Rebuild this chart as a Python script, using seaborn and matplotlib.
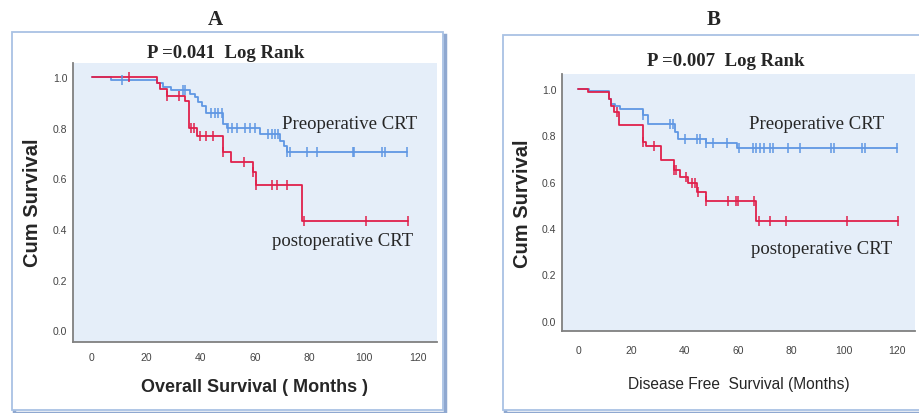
import numpy as np
import seaborn as sns
import matplotlib.pyplot as plt
from matplotlib.patches import Rectangle

# Panel A - overall survival (months), step times / survival after step
os_pre_t = [0, 7.1, 23.9, 26.3, 29.0, 34.9, 36.1, 37.9, 39.1, 40.7, 42.2, 48.4, 49.6, 61.9, 69.2, 70.7, 71.9]
os_pre_s = [1.0, 0.989, 0.977, 0.964, 0.951, 0.951, 0.934, 0.921, 0.903, 0.885, 0.861, 0.815, 0.80, 0.776, 0.749, 0.727, 0.703]
os_pre_cens = [11.1, 33.5, 34.3, 44.0, 45.3, 46.5, 47.8, 50.2, 51.5, 53.3, 56.3, 58.2, 60.0,
               65.0, 66.2, 67.4, 68.6, 71.9, 72.9, 79.0, 83.0, 96.0, 96.6, 106.6, 107.8, 115.8]

os_post_t = [0, 23.9, 25.1, 27.8, 34.3, 35.9, 38.8, 48.2, 51.2, 59.2, 60.3, 77.2]
os_post_s = [1.0, 0.977, 0.954, 0.927, 0.905, 0.80, 0.77, 0.703, 0.666, 0.624, 0.574, 0.433]
os_post_cens = [13.8, 27.8, 32.0, 36.5, 37.5, 39.8, 42.2, 44.7, 48.2, 56.0, 59.2, 60.3,
                66.2, 68.0, 71.9, 78.0, 101.0, 116.4]

# Panel B - disease free survival (months)
dfs_pre_t = [0, 4.0, 11.5, 12.5, 13.8, 15.7, 24.2, 26.3, 36.3, 37.6, 48.0, 59.8]
dfs_pre_s = [1.0, 0.993, 0.957, 0.935, 0.925, 0.914, 0.888, 0.849, 0.813, 0.784, 0.767, 0.745]
dfs_pre_cens = [24.2, 34.5, 35.5, 40.1, 44.5, 45.7, 48.2, 50.8, 55.8, 60.5, 65.8, 67.0, 68.5,
                69.8, 72.1, 73.3, 78.9, 83.3, 95.2, 96.1, 106.5, 107.8, 119.9]

dfs_post_t = [0, 3.8, 11.5, 12.5, 13.4, 15.4, 24.2, 25.4, 31.1, 36.1, 38.2, 41.4, 44.5, 48.0, 67.0]
dfs_post_s = [1.0, 0.988, 0.957, 0.928, 0.90, 0.846, 0.773, 0.755, 0.695, 0.652, 0.619, 0.593, 0.554, 0.518, 0.432]
dfs_post_cens = [14.4, 24.2, 28.4, 36.1, 36.9, 40.7, 42.6, 43.9, 45.1, 48.2, 56.4, 59.3, 60.2,
                 66.0, 68.0, 72.1, 78.1, 100.9, 120.3]

y_ticks = [0.0, 0.2, 0.4, 0.6, 0.8, 1.0]
x_ticks = [0, 20, 40, 60, 80, 100, 120]

BLUE = '#5f97e3'
RED = '#e0204c'
BG = '#e5eef9'

sns.set_style('white')
plt.rcParams['font.family'] = ['Liberation Sans', 'DejaVu Sans']

W, H = 920, 414
fig = plt.figure(figsize=(W / 100, H / 100), dpi=100)


def px(x0, y0, x1, y1):
    # pixel box -> figure fraction [left, bottom, width, height]
    return [x0 / W, 1 - y1 / H, (x1 - x0) / W, (y1 - y0) / H]


def frame(x0, y0, x1, y1):
    l, b, w, h = px(x0, y0, x1, y1)
    fig.patches.append(Rectangle((l + 2.5 / W, b - 2.5 / H), w, h, transform=fig.transFigure,
                                 facecolor='none', edgecolor='#8fa8d0', lw=2.5, zorder=-2))
    fig.patches.append(Rectangle((l, b), w, h, transform=fig.transFigure,
                                 facecolor='white', edgecolor='#a9c2e4', lw=1.3, zorder=-1))


def km(ax, t, s, cens, color):
    t_end = max(max(cens), t[-1])
    xs = list(t) + [t_end]
    ys = list(s) + [s[-1]]
    sns.lineplot(x=xs, y=ys, drawstyle='steps-post', color=color, linewidth=1.3,
                 estimator=None, sort=False, ax=ax)
    idx = np.searchsorted(t, cens, side='right') - 1
    cy = np.array(s)[idx]
    sns.scatterplot(x=cens, y=cy, marker='|', s=45, color=color, linewidth=1.1, ax=ax, zorder=3)


def style_axes(ax, xlim, ylim, xpad):
    ax.set_facecolor(BG)
    ax.set_xlim(*xlim)
    ax.set_ylim(*ylim)
    ax.set_xticks(x_ticks)
    ax.set_yticks(y_ticks)
    ax.set_yticklabels([f'{v:.1f}' for v in y_ticks])
    for sp in ['top', 'right']:
        ax.spines[sp].set_visible(False)
    for sp in ['left', 'bottom']:
        ax.spines[sp].set_color('#808080')
        ax.spines[sp].set_linewidth(1.3)
    ax.tick_params(axis='both', length=0, labelsize=7.5, colors='#444444')
    ax.tick_params(axis='x', pad=xpad)
    ax.tick_params(axis='y', pad=4)
    ax.set_xlabel('')
    ax.set_ylabel('')


# ---- panel A ----
frame(12, 33, 443, 411)
axA = fig.add_axes(px(73, 64, 437, 343))
km(axA, os_pre_t, os_pre_s, os_pre_cens, BLUE)
km(axA, os_post_t, os_post_s, os_post_cens, RED)
style_axes(axA, (-6.9, 127), (-0.047, 1.057), 7)
axA.text(69.9, 0.819, 'Preoperative CRT', family='Liberation Serif', fontsize=13.5, va='center')
axA.text(66.2, 0.353, 'postoperative CRT', family='Liberation Serif', fontsize=13.5, va='center')

fig.text(215 / W, 1 - 20 / H, 'A', family='Liberation Serif', fontweight='bold', fontsize=15,
         ha='center', va='center')
fig.text(226 / W, 1 - 54 / H, 'P =0.041  Log Rank', family='Liberation Serif', fontweight='bold',
         fontsize=13.5, ha='center', va='center')
fig.text(33 / W, 1 - 203 / H, 'Cum Survival', fontweight='bold', fontsize=14.5, rotation=90,
         ha='center', va='center')
fig.text(255 / W, 1 - 388 / H, 'Overall Survival ( Months )', fontweight='bold', fontsize=13,
         ha='center', va='center')

# ---- panel B ----
frame(503, 36, 925, 411)
axB = fig.add_axes(px(562, 75, 915, 332))
km(axB, dfs_pre_t, dfs_pre_s, dfs_pre_cens, BLUE)
km(axB, dfs_post_t, dfs_post_s, dfs_post_cens, RED)
style_axes(axB, (-6.1, 126.6), (-0.044, 1.065), 10)
axB.text(64.3, 0.853, 'Preoperative CRT', family='Liberation Serif', fontsize=13.5, va='center')
axB.text(64.8, 0.312, 'postoperative CRT', family='Liberation Serif', fontsize=13.5, va='center')

fig.text(714 / W, 1 - 20 / H, 'B', family='Liberation Serif', fontweight='bold', fontsize=15,
         ha='center', va='center')
fig.text(726 / W, 1 - 61 / H, 'P =0.007  Log Rank', family='Liberation Serif', fontweight='bold',
         fontsize=13.5, ha='center', va='center')
fig.text(523 / W, 1 - 204 / H, 'Cum Survival', fontweight='bold', fontsize=14.5, rotation=90,
         ha='center', va='center')
fig.text(739 / W, 1 - 385 / H, 'Disease Free  Survival (Months)', fontsize=11.2,
         ha='center', va='center')

fig.savefig('out.png', dpi=100)
